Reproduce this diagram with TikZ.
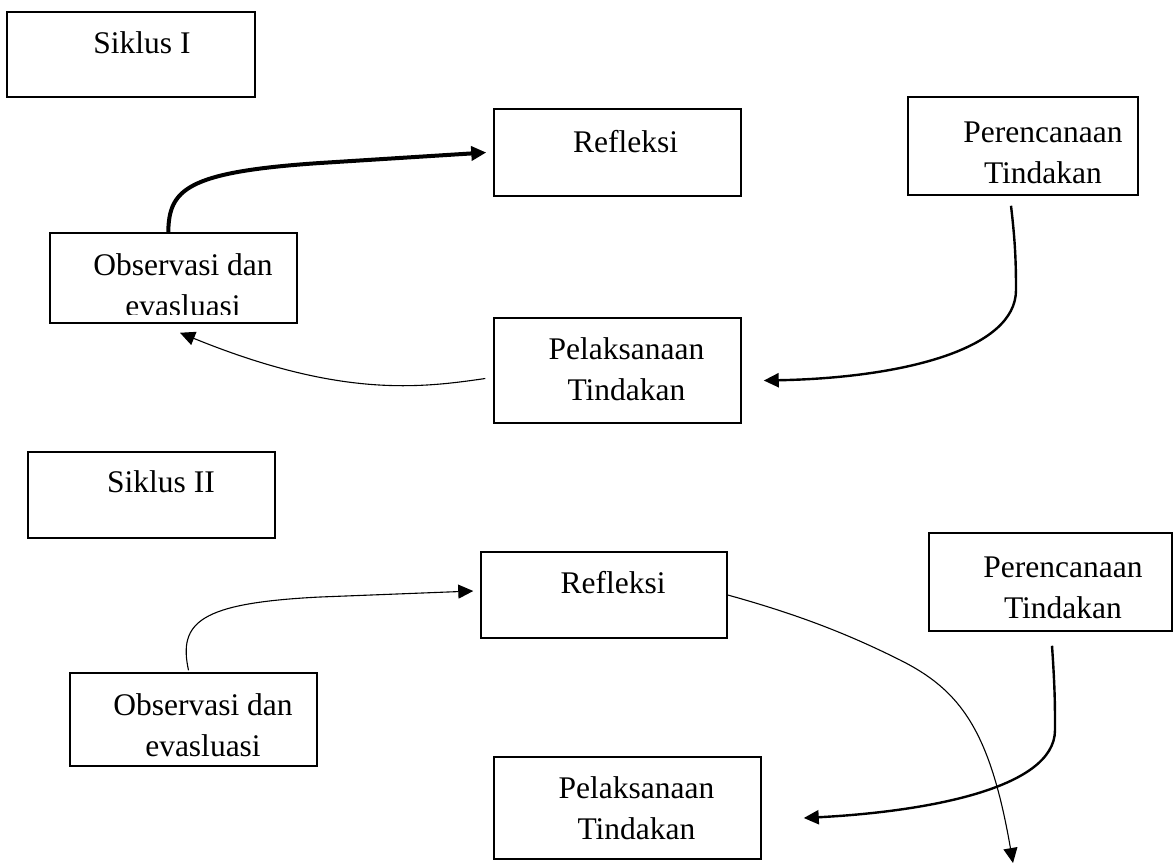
\documentclass[tikz,border=0pt]{standalone}
\usepackage{fontspec}
\setmainfont{Liberation Serif}
\usetikzlibrary{arrows.meta}

\begin{document}
\begin{tikzpicture}[x=1pt, y=-1pt,
    box/.style={draw, line width=1.5pt, inner sep=0pt},
    boxtext/.style={anchor=north, inner sep=0pt, align=center,
        font=\fontsize{31.5}{41}\selectfont},
    tip/.style={-{Triangle[length=15pt,width=14pt]}},
    heavy/.style={tip, line width=4pt},
    medium/.style={tip, line width=2.4pt},
    light/.style={tip, line width=1.1pt}
]
\useasboundingbox (0,0) rectangle (1174,865);

% boxes: name / left / top / right / bottom
\foreach \n/\l/\t/\r/\b in {s1/7/12/255/97, ref1/494/109/741/196,
        per1/908/97/1138/195, obs1/50/233/297/323, pel1/494/318/741/423,
        s2/28/452/275/538, ref2/481/552/727/638, per2/929/533/1172/631,
        obs2/70/673/317/766, pel2/494/757/761/859}
    \node[box, minimum width=(\r-\l)*1pt, minimum height=(\b-\t)*1pt]
        (\n) at ({(\l+\r)/2},{(\t+\b)/2}) {};

% Siklus I
\node[boxtext] (s1t) at (142,31.5) {Siklus I};
\node[boxtext] (ref1t) at (625.5,130.5) {Refleksi};
\node[boxtext] (per1t) at (1043,121.5) {Perencanaan\\Tindakan};
\begin{scope}
    \clip (obs1.north west) rectangle ([yshift=9pt]obs1.south east);
    \node[boxtext] (obs1t) at (183,253.5) {Observasi dan\\evasluasi};
\end{scope}
\node[boxtext] (pel1t) at (626.5,337.5) {Pelaksanaan\\Tindakan};

\draw[heavy] ([xshift=119pt]obs1.north west)
    .. controls (169,190) and (185,172) .. (320,163) -- ([xshift=-7pt]ref1.west);
\draw[medium] ([xshift=-12pt,yshift=-10pt]per1.south)
    .. controls (1015,240) and (1016,260) .. (1016,290)
    .. controls (1016,350) and (900,378) .. ([xshift=22pt,yshift=-10pt]pel1.east);
\draw[light] ([xshift=-8pt,yshift=-8pt]pel1.west)
    .. controls (420,388) and (340,398) .. ([xshift=6.5pt,yshift=-9pt]obs1.south);

% Siklus II
\node[boxtext] (s2t) at (161,470.5) {Siklus II};
\node[boxtext] (ref2t) at (613,571.5) {Refleksi};
\node[boxtext] (per2t) at (1063,556.5) {Perencanaan\\Tindakan};
\node[boxtext] (obs2t) at (203,693.5) {Observasi dan\\evasluasi};
\node[boxtext] (pel2t) at (636.5,776.5) {Pelaksanaan\\Tindakan};

\coordinate (out2) at (1013,863);

\draw[light] ([xshift=-5pt,yshift=2pt]obs2.north)
    .. controls (178,622) and (200,603) .. (320,597) -- ([xshift=-7pt,yshift=4pt]ref2.west);
\draw[light] (ref2.east)
    .. controls (800,615) and (850,635) .. (900,660)
    .. controls (960,690) and (990,730) .. (out2);
\draw[medium] ([xshift=1.5pt,yshift=-14pt]per2.south)
    .. controls (1055,690) and (1055,705) .. (1055,730)
    .. controls (1055,790) and (920,812) .. ([xshift=42pt,yshift=-10pt]pel2.east);

\end{tikzpicture}
\end{document}
